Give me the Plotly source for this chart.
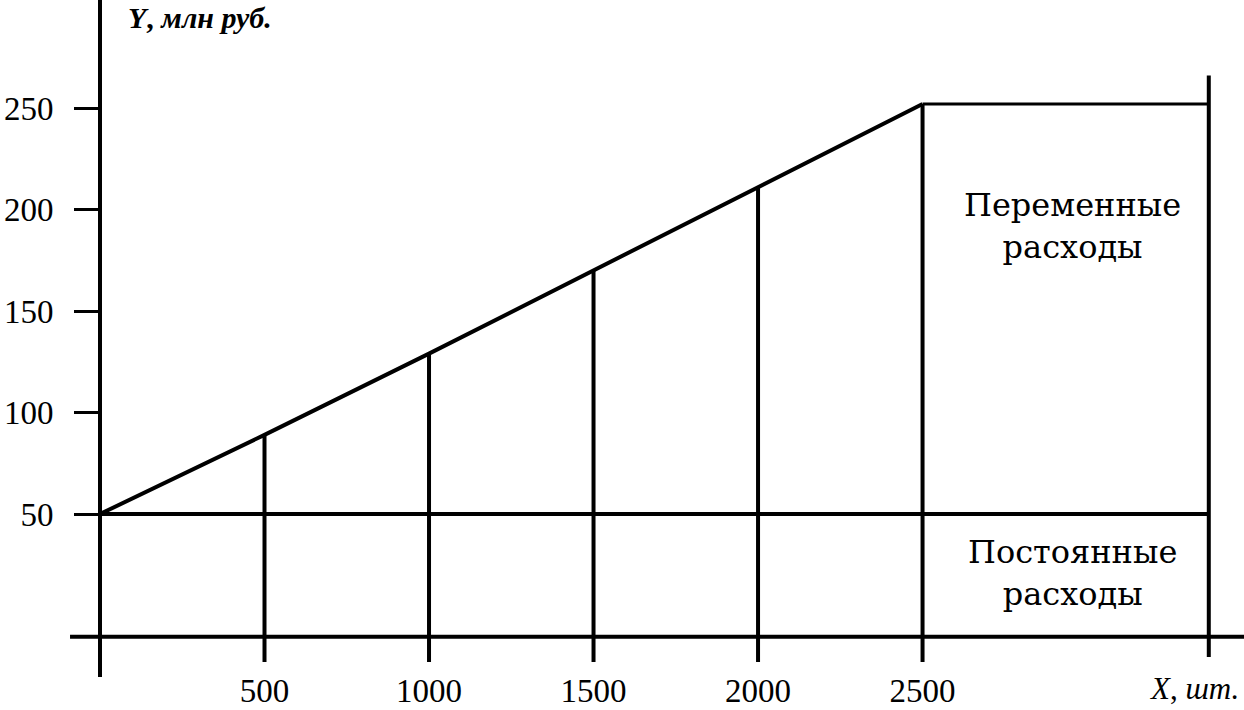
import plotly.graph_objects as go

# ---- data ----
x_units = [0, 500, 1000, 1500, 2000, 2500]          # X, шт.
total_costs = [50, 89, 129, 170, 211, 252]           # Y, млн руб.
fixed_costs = 50
x_end = 3370                                          # right boundary of the diagram
x_tick_vals = [500, 1000, 1500, 2000, 2500]
x_tick_text = ["500", "1000", "1500", "2000", "2500"]
y_tick_vals = [50, 100, 150, 200, 250]
y_tick_text = ["50", "100", "150", "200", "250"]

# ---- geometry / style ----
X_RANGE = [0, 3477]
Y_RANGE = [-22.9, 303.2]
Y_BOTTOM = -23
Y_AXIS_LINE = -10.5
RIGHT_TOP = 266
LW = 4
BLACK = "#000000"
SERIF = "Liberation Serif"

fig = go.Figure()

line_style = dict(color=BLACK, width=LW)

# total cost line (fixed + variable)
fig.add_trace(go.Scatter(x=x_units, y=total_costs, mode="lines", line=line_style,
                         hoverinfo="skip", showlegend=False))
# fixed cost level
fig.add_trace(go.Scatter(x=[x_units[0], x_end], y=[fixed_costs, fixed_costs], mode="lines",
                         line=line_style, hoverinfo="skip", showlegend=False))
# level of total costs at max volume
fig.add_trace(go.Scatter(x=[x_units[-1], x_end], y=[total_costs[-1], total_costs[-1]], mode="lines",
                         line=dict(color=BLACK, width=3), hoverinfo="skip", showlegend=False))
# verticals at each volume
vx, vy = [], []
for xv, yv in zip(x_units[1:], total_costs[1:]):
    vx += [xv, xv, None]
    vy += [yv, Y_BOTTOM, None]
fig.add_trace(go.Scatter(x=vx, y=vy, mode="lines", line=line_style,
                         hoverinfo="skip", showlegend=False, connectgaps=False))
# right boundary
fig.add_trace(go.Scatter(x=[x_end, x_end], y=[RIGHT_TOP, -20.4], mode="lines", line=line_style,
                         hoverinfo="skip", showlegend=False))

# axis lines as shapes (extend beyond plot area like the drawing)
fig.add_shape(type="line", xref="paper", yref="paper", x0=0, x1=0, y0=-0.0227, y1=1.0,
              line=dict(color=BLACK, width=LW))
fig.add_shape(type="line", xref="paper", yref="y", x0=-0.0262, x1=1.0,
              y0=Y_AXIS_LINE, y1=Y_AXIS_LINE, line=dict(color=BLACK, width=LW))

# region labels
mid_x = (x_units[-1] + x_end) / 2 + 20
fig.add_annotation(x=mid_x, y=192, xref="x", yref="y", text="Переменные<br>расходы",
                   showarrow=False, font=dict(family="DejaVu Serif", size=32, color=BLACK),
                   align="center")
fig.add_annotation(x=mid_x, y=21, xref="x", yref="y", text="Постоянные<br>расходы",
                   showarrow=False, font=dict(family="DejaVu Serif", size=32, color=BLACK),
                   align="center")

# axis titles
fig.add_annotation(x=(126 - 100) / 1144, y=(662 - 18) / 662, xref="paper", yref="paper",
                   text="<b><i>Y</i>, <i>млн руб.</i></b>", showarrow=False,
                   xanchor="left", yanchor="middle",
                   font=dict(family=SERIF, size=30, color=BLACK))
fig.add_annotation(x=(1194 - 100) / 1144, y=(662 - 688) / 662, xref="paper", yref="paper",
                   text="<i>X</i>, <i>шт.</i>", showarrow=False,
                   xanchor="center", yanchor="middle",
                   font=dict(family=SERIF, size=31, color=BLACK))

fig.update_xaxes(range=X_RANGE, showgrid=False, zeroline=False, showline=False,
                 tickmode="array", tickvals=x_tick_vals, ticktext=x_tick_text,
                 ticks="", ticklabelstandoff=6,
                 tickfont=dict(family=SERIF, size=33, color=BLACK), fixedrange=True)
fig.update_yaxes(range=Y_RANGE, showgrid=False, zeroline=False, showline=False,
                 tickmode="array", tickvals=y_tick_vals, ticktext=y_tick_text,
                 ticks="outside", ticklen=25, tickwidth=3, tickcolor=BLACK,
                 ticklabelstandoff=14,
                 tickfont=dict(family=SERIF, size=33, color=BLACK), fixedrange=True)

fig.update_layout(width=1244, height=710, margin=dict(l=100, r=0, t=0, b=48),
                  paper_bgcolor="white", plot_bgcolor="white", showlegend=False)

fig.write_html("out.html", config={"displayModeBar": False},
               post_script="document.body.style.margin='0px';document.body.style.overflow='hidden';")
